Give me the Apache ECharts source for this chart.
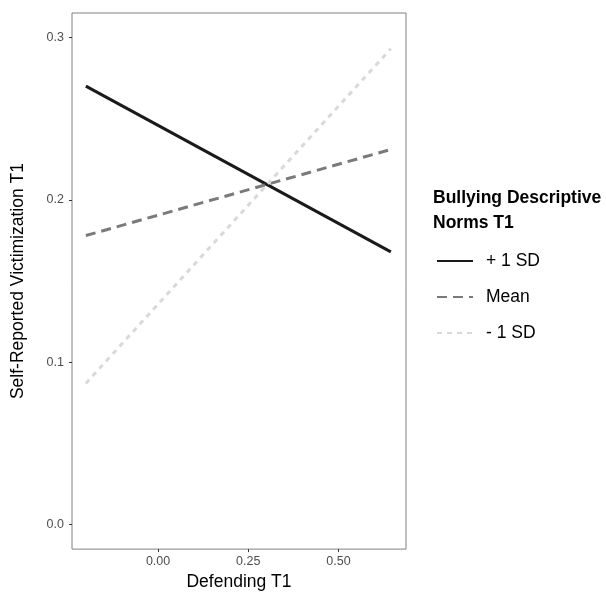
<!DOCTYPE html>
<html><head><meta charset="utf-8">
<script src="https://cdn.jsdelivr.net/npm/echarts@6/dist/echarts.min.js"></script>
<style>html,body{margin:0;padding:0;background:#fff}#c{width:606px;height:596px}</style>
</head><body><div id="c"></div>
<script>
const xVals = [-0.2, 0.645];
const plusSD = [0.270, 0.168];
const meanV = [0.178, 0.231];
const minusSD = [0.087, 0.293];
const xTicks = [0, 0.25, 0.5];
const yTicks = [0, 0.1, 0.2, 0.3];
const seriesNames = ['+ 1 SD', 'Mean', '- 1 SD'];
const legendTitle = 'Bullying Descriptive\nNorms T1';

const font = 'Liberation Sans, Arial, sans-serif';
const chart = echarts.init(document.getElementById('c'));
const mk = (vals) => xVals.map((x, i) => [x, vals[i]]);
chart.setOption({
  animation: false,
  backgroundColor: '#fff',
  textStyle: { fontFamily: font },
  title: {
    text: legendTitle, left: 428, top: 181,
    textStyle: { fontFamily: font, fontSize: 17.5, fontWeight: 'bold', color: '#000', lineHeight: 25 }
  },
  legend: {
    orient: 'vertical', left: 431, top: 247,
    itemWidth: 36, itemHeight: 16, itemGap: 18,
    data: seriesNames,
    itemStyle: { opacity: 0 },
    textStyle: { fontFamily: font, fontSize: 17.5, color: '#000', padding: [0, 0, 0, 8] }
  },
  grid: { left: 72, right: 200, top: 13, bottom: 46, show: true, borderColor: '#808080', borderWidth: 1, backgroundColor: '#fff' },
  xAxis: {
    type: 'value', min: -0.2384, max: 0.687,
    name: 'Defending T1', nameLocation: 'middle', nameGap: 23,
    nameTextStyle: { fontFamily: font, fontSize: 17.5, color: '#000' },
    axisLine: { show: false, onZero: false },
    splitLine: { show: false },
    axisTick: { show: true, length: 3, lineStyle: { color: '#333' }, customValues: xTicks },
    axisLabel: { fontFamily: font, fontSize: 12.5, color: '#4d4d4d', margin: 6, customValues: xTicks,
      formatter: v => v.toFixed(2) }
  },
  yAxis: {
    type: 'value', min: -0.015, max: 0.315,
    name: 'Self-Reported Victimization T1', nameLocation: 'middle', nameGap: 45,
    nameTextStyle: { fontFamily: font, fontSize: 17.5, color: '#000' },
    axisLine: { show: false, onZero: false },
    splitLine: { show: false },
    axisTick: { show: true, length: 3, lineStyle: { color: '#333' }, customValues: yTicks },
    axisLabel: { fontFamily: font, fontSize: 12.5, color: '#4d4d4d', margin: 8, customValues: yTicks,
      formatter: v => v.toFixed(1) }
  },
  series: [
    { name: seriesNames[0], type: 'line', data: mk(plusSD), symbol: 'none',
      lineStyle: { color: '#1a1a1a', width: 3, type: 'solid' }, itemStyle: { color: '#1a1a1a' } },
    { name: seriesNames[1], type: 'line', data: mk(meanV), symbol: 'none',
      lineStyle: { color: '#7a7a7a', width: 3, type: [10, 6] }, itemStyle: { color: '#7a7a7a' } },
    { name: seriesNames[2], type: 'line', data: mk(minusSD), symbol: 'none',
      lineStyle: { color: '#d9d9d9', width: 3, type: [5, 5] }, itemStyle: { color: '#d9d9d9' } }
  ]
});
</script></body></html>
